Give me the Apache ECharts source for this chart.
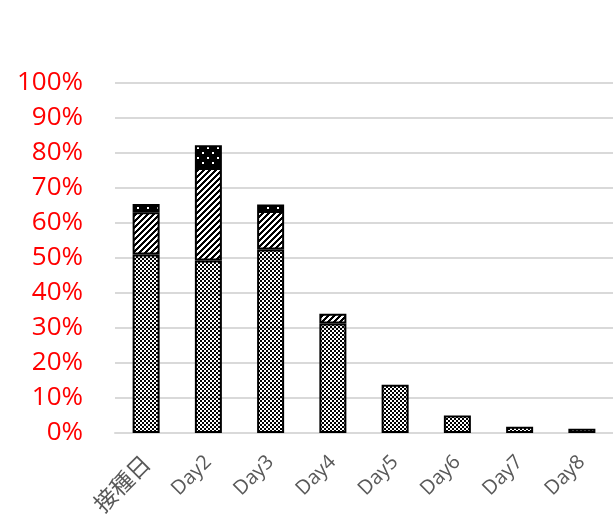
<!DOCTYPE html>
<html>
<head>
<meta charset="utf-8">
<script src="https://cdn.jsdelivr.net/npm/echarts@6/dist/echarts.min.js"></script>
<style>
html,body{margin:0;padding:0;background:#fff;}
#chart{width:613px;height:515px;}
</style>
</head>
<body>
<div id="chart"></div>
<script>
const categories = ['接種日', 'Day2', 'Day3', 'Day4', 'Day5', 'Day6', 'Day7', 'Day8'];
const checkValues = [51.0, 49.3, 52.4, 31.3, 13.8, 5.0, 1.8, 1.2];
const hatchValues = [12.1, 26.4, 11.0, 2.8, 0, 0, 0, 0];
const dotValues = [2.3, 6.5, 1.9, 0, 0, 0, 0, 0];
const yTicks = [0, 10, 20, 30, 40, 50, 60, 70, 80, 90, 100];

function makeCanvas(w, h, draw) {
  const c = document.createElement('canvas');
  c.width = w; c.height = h;
  const ctx = c.getContext('2d');
  draw(ctx);
  return c;
}
const checkPattern = makeCanvas(4, 4, ctx => {
  ctx.clearRect(0, 0, 4, 4);
  ctx.fillStyle = '#000';
  ctx.fillRect(0, 0, 2, 2); ctx.fillRect(2, 2, 2, 2);
});
const hatchPattern = makeCanvas(6, 6, ctx => {
  ctx.fillStyle = '#fff'; ctx.fillRect(0, 0, 6, 6);
  ctx.fillStyle = '#000';
  for (let y = 0; y < 6; y++) {
    for (let x = 0; x < 6; x++) {
      if ((x + y) % 6 < 3) ctx.fillRect(x, y, 1, 1);
    }
  }
});
const dotPattern = makeCanvas(10, 10, ctx => {
  ctx.fillStyle = '#000'; ctx.fillRect(0, 0, 10, 10);
  ctx.fillStyle = '#fff';
  ctx.fillRect(2, 2, 2, 2); ctx.fillRect(7, 7, 2, 2);
});

const toData = arr => arr.map(v => (v === 0 ? null : v));

function seriesOf(name, values, pattern) {
  return {
    name: name,
    type: 'bar',
    stack: 'total',
    barWidth: 27,
    data: toData(values),
    itemStyle: {
      color: { image: pattern, repeat: 'repeat' },
      borderColor: '#000',
      borderWidth: 2
    }
  };
}

const chart = echarts.init(document.getElementById('chart'));
chart.setOption({
  animation: false,
  backgroundColor: '#fff',
  grid: { left: 115, right: 0, top: 83, bottom: 82, containLabel: false, outerBoundsMode: 'none' },
  xAxis: {
    type: 'category',
    data: categories,
    axisLine: { show: true, lineStyle: { color: '#d9d9d9', width: 2 } },
    axisTick: { show: false },
    axisLabel: {
      rotate: 45,
      margin: 26,
      color: '#595959',
      fontSize: 20,
      fontFamily: '"Open Sans", "Noto Sans CJK JP", sans-serif',
      interval: 0,
      formatter: v => (/^[A-Za-z0-9]+$/.test(v) ? v : '{cjk|' + v + '}'),
      rich: {
        cjk: { fontSize: 23, color: '#595959', fontFamily: '"Noto Sans CJK JP", sans-serif' }
      }
    }
  },
  yAxis: {
    type: 'value',
    min: yTicks[0],
    max: yTicks[yTicks.length - 1],
    interval: yTicks[1] - yTicks[0],
    axisLine: { show: false },
    axisTick: { show: false },
    splitLine: { lineStyle: { color: '#d9d9d9', width: 2 } },
    axisLabel: {
      formatter: '{value}%',
      color: '#ff0000',
      fontSize: 26,
      margin: 32,
      fontFamily: '"Open Sans", sans-serif'
    }
  },
  series: [
    seriesOf('check', checkValues, checkPattern),
    seriesOf('hatch', hatchValues, hatchPattern),
    seriesOf('dot', dotValues, dotPattern)
  ]
});
</script>
</body>
</html>
